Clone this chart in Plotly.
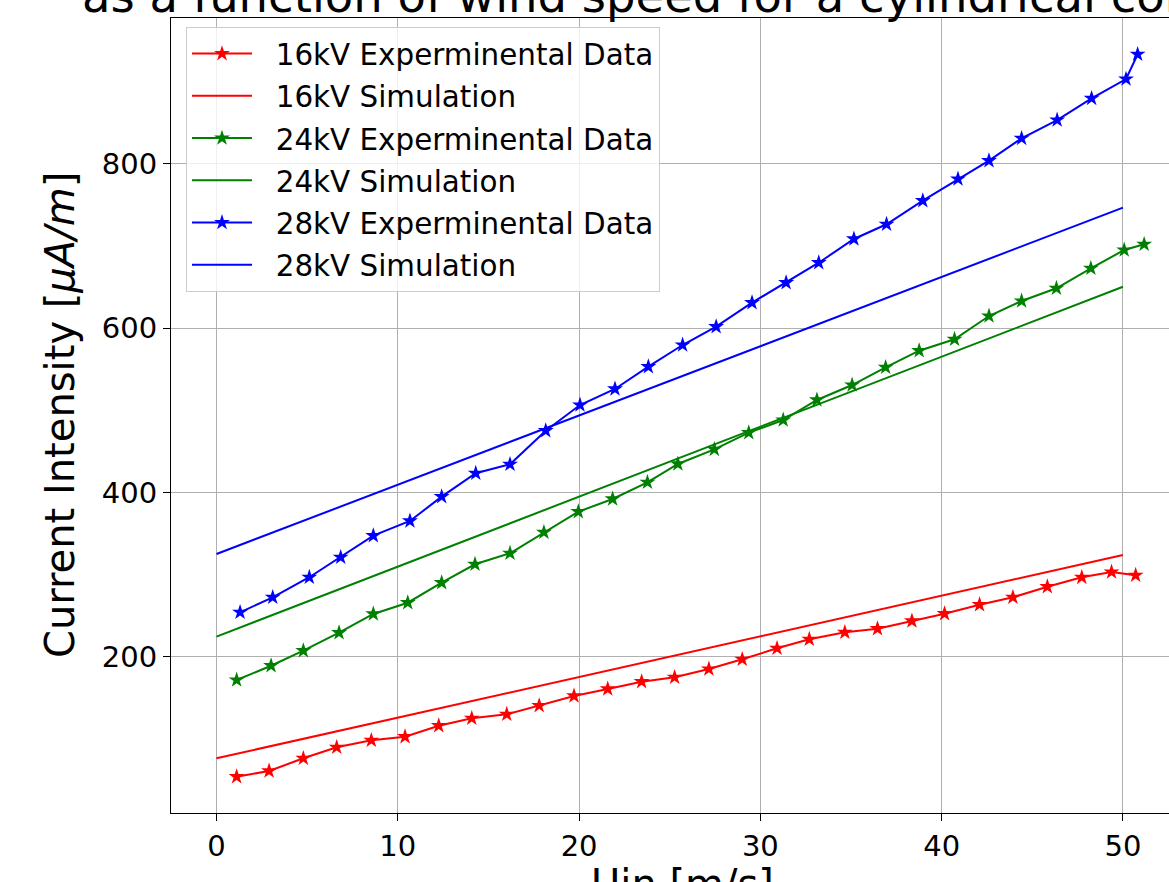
import plotly.graph_objects as go

# ---- data ----
x_16_exp = [1.11, 2.90, 4.79, 6.63, 8.54, 10.40, 12.26, 14.08, 16.01, 17.80, 19.72, 21.58,
            23.45, 25.27, 27.16, 29.00, 30.92, 32.70, 34.66, 36.46, 38.36, 40.16, 42.09,
            43.93, 45.83, 47.73, 49.37, 50.70]
y_16_exp = [53.9, 60.9, 76.3, 89.7, 98.2, 102.6, 116.0, 125.0, 129.9, 140.4, 152.2, 160.7,
            169.6, 174.9, 185.0, 196.8, 210.2, 221.2, 229.7, 234.1, 243.5, 252.3, 263.3,
            272.3, 285.2, 296.6, 303.1, 299.1]

x_24_exp = [1.11, 3.01, 4.79, 6.76, 8.65, 10.55, 12.42, 14.26, 16.19, 18.06, 19.96, 21.85,
            23.77, 25.45, 27.46, 29.36, 31.26, 33.12, 35.06, 36.91, 38.76, 40.71, 42.61,
            44.41, 46.33, 48.23, 50.07, 51.17]
y_24_exp = [171.6, 189.0, 207.3, 229.2, 252.0, 265.7, 290.1, 312.5, 325.9, 351.4, 376.5, 392.0,
            412.3, 434.6, 452.4, 472.7, 488.1, 512.5, 530.7, 552.3, 572.5, 586.4, 614.7,
            633.0, 648.5, 672.8, 695.1, 702.0]

x_28_exp = [1.30, 3.10, 5.12, 6.85, 8.65, 10.67, 12.42, 14.30, 16.19, 18.16, 20.05, 21.98,
            23.82, 25.71, 27.56, 29.54, 31.42, 33.22, 35.16, 36.96, 38.96, 40.90, 42.61,
            44.41, 46.37, 48.27, 50.17, 50.81]
y_28_exp = [254.0, 272.3, 296.7, 321.0, 347.3, 365.2, 394.8, 423.3, 434.2, 475.1, 506.4, 525.9,
            553.0, 579.4, 601.7, 630.9, 655.3, 679.6, 708.5, 726.4, 755.1, 781.5, 803.8,
            831.0, 853.3, 879.7, 903.2, 933.3]

x_sim = [0, 30, 50]
y_16_sim = [76.3, 225.0, 323.8]
y_24_sim = [224.4, 480.0, 650.4]
y_28_sim = [325.0, 578.0, 746.6]

series = [
    ("16kV Experminental Data", x_16_exp, y_16_exp, "#ff0000", True),
    ("16kV Simulation", x_sim, y_16_sim, "#ff0000", False),
    ("24kV Experminental Data", x_24_exp, y_24_exp, "#008000", True),
    ("24kV Simulation", x_sim, y_24_sim, "#008000", False),
    ("28kV Experminental Data", x_28_exp, y_28_exp, "#0000ff", True),
    ("28kV Simulation", x_sim, y_28_sim, "#0000ff", False),
]

FONT = "DejaVu Sans"
W, H = 1169, 882
L, R, T, B = 171, 0, 18, 69
pw, ph = W - L - R, H - T - B
NB = "\u00a0\u00a0"

fig = go.Figure()
for i, (name, xs, ys, col, mk) in enumerate(series):
    fig.add_trace(go.Scatter(
        x=xs, y=ys, name=NB + name,
        mode="lines+markers" if mk else "lines",
        line=dict(color=col, width=2),
        marker=dict(symbol="star", size=12, color=col, line=dict(width=0)) if mk else None,
        legendgroup=f"g{i}",
    ))

fig.update_layout(
    width=W, height=H,
    margin=dict(l=L, r=R, t=T, b=B, pad=0),
    paper_bgcolor="white", plot_bgcolor="white",
    font=dict(family=FONT, size=29, color="black"),
    showlegend=True,
    legend=dict(
        x=(186 - L) / pw, y=(H - B - 27) / ph, xanchor="left", yanchor="top",
        bgcolor="rgba(255,255,255,0.8)", bordercolor="#cccccc", borderwidth=1,
        font=dict(family=FONT, size=29.4, color="black"),
        tracegroupgap=1, itemwidth=60,
    ),
    xaxis=dict(
        range=[-2.51, 52.54], tickvals=[0, 10, 20, 30, 40, 50],
        showgrid=True, gridcolor="#b0b0b0", gridwidth=1,
        showline=True, linecolor="black", linewidth=1, mirror=True,
        ticks="outside", ticklen=7, tickcolor="black", tickwidth=1,
        tickfont=dict(family=FONT, size=29, color="black"),
        zeroline=False,
    ),
    yaxis=dict(
        range=[9.7, 977.5], tickvals=[200, 400, 600, 800],
        showgrid=True, gridcolor="#b0b0b0", gridwidth=1,
        showline=True, linecolor="black", linewidth=1,
        ticks="outside", ticklen=7, tickcolor="black", tickwidth=1,
        tickfont=dict(family=FONT, size=29, color="black"),
        zeroline=False,
    ),
)

# title (second line, partly cut off at the top of the picture)
fig.add_annotation(
    text="as a function of wind speed for a cylindrical conductor",
    xref="paper", yref="paper", x=(80 - L) / pw, y=1.0,
    xanchor="left", yanchor="bottom", yshift=-7, showarrow=False,
    font=dict(family=FONT, size=46.5, color="black"),
)
# y-axis label
fig.add_annotation(
    text="Current Intensity [<i>μA/m</i>]",
    xref="paper", yref="paper", x=(60 - L) / pw, y=(H - B - 415) / ph,
    xanchor="center", yanchor="middle", textangle=-90, showarrow=False,
    font=dict(family=FONT, size=40, color="black"),
)
# x-axis label (cut off at the bottom)
fig.add_annotation(
    text="Uin [m/s]",
    xref="paper", yref="paper", x=(682 - L) / pw, y=(H - B - 859) / ph,
    xanchor="center", yanchor="top", showarrow=False,
    font=dict(family=FONT, size=40, color="black"),
)

fig.write_html(
    "out.html",
    config={"displayModeBar": False},
    post_script="document.body.style.margin='0';document.body.style.overflow='hidden';",
)
